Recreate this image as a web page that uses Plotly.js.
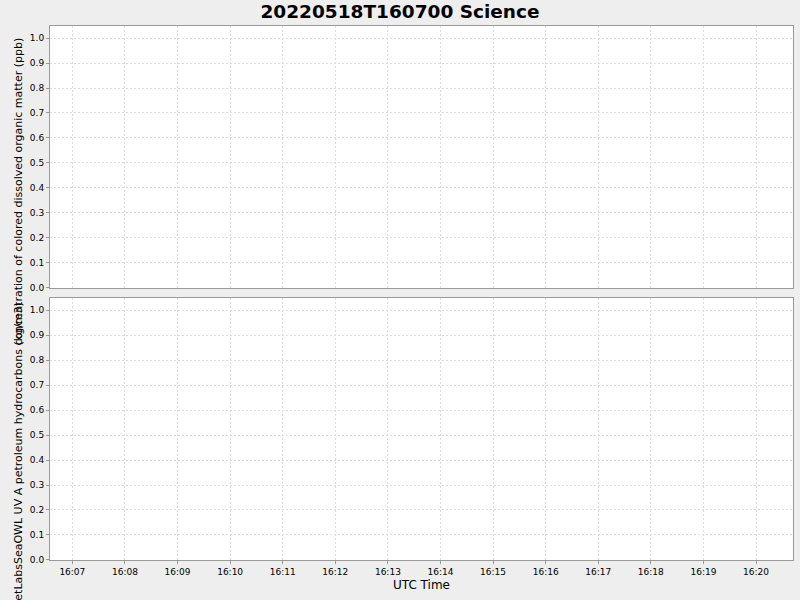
<!DOCTYPE html>
<html>
<head>
<meta charset="utf-8">
<script src="https://cdn.plot.ly/plotly-3.0.1.min.js"></script>
<style>
  html, body { margin: 0; padding: 0; background: #eeeeee; }
  #plot { width: 800px; height: 600px; }
</style>
</head>
<body>
<div id="plot"></div>
<script>
// the science file has no samples for either sensor, so both series are empty
var cdomTimes = [];
var cdomValues = [];
var petroTimes = [];
var petroValues = [];

var timeRange = ['2022-05-18 16:06:34.5', '2022-05-18 16:20:42.2'];
var valueRange = [0, 1.048];

var chartTitle = '20220518T160700 Science';
var cdomLabel = 'concentration of colored dissolved organic matter (ppb)';
var petroLabel = 'WetLabsSeaOWL UV A petroleum hydrocarbons (kg/m3)';
var timeLabel = 'UTC Time';

var tickFont = { family: 'DejaVu Sans', size: 9, color: '#000' };
var labelFont = { family: 'DejaVu Sans', size: 11, color: '#000' };

function xAxis(extra) {
  var ax = {
    type: 'date',
    range: timeRange,
    dtick: 60000,
    tickformat: '%H:%M',
    tickfont: tickFont,
    ticks: 'outside',
    ticklen: 3,
    tickcolor: '#999',
    showgrid: true,
    gridcolor: '#dcdcdc',
    griddash: '2px,2px',
    showline: true,
    linecolor: '#999',
    linewidth: 1,
    mirror: true,
    zeroline: false
  };
  for (var k in extra) ax[k] = extra[k];
  return ax;
}

function yAxis(extra) {
  var ax = {
    range: valueRange,
    dtick: 0.1,
    tick0: 0,
    tickformat: '.1f',
    tickfont: tickFont,
    ticks: 'outside',
    ticklen: 3,
    tickcolor: '#999',
    showgrid: true,
    gridcolor: '#dcdcdc',
    griddash: '2px,2px',
    showline: true,
    linecolor: '#999',
    linewidth: 1,
    mirror: true,
    zeroline: false
  };
  for (var k in extra) ax[k] = extra[k];
  return ax;
}

var data = [
  { x: cdomTimes, y: cdomValues, xaxis: 'x', yaxis: 'y', type: 'scatter', mode: 'lines', showlegend: false },
  { x: petroTimes, y: petroValues, xaxis: 'x2', yaxis: 'y2', type: 'scatter', mode: 'lines', showlegend: false }
];

var layout = {
  width: 800,
  height: 600,
  paper_bgcolor: '#eeeeee',
  plot_bgcolor: '#ffffff',
  margin: { l: 50, r: 7, t: 26, b: 40 },
  title: {
    text: '<b>' + chartTitle + '</b>',
    font: { family: 'DejaVu Sans', size: 18.5, color: '#000' },
    x: 0.5, xanchor: 'center',
    y: 0.98, yref: 'container', yanchor: 'middle'
  },
  // top panel
  xaxis: xAxis({ anchor: 'y', showticklabels: false, ticks: '' }),
  yaxis: yAxis({ domain: [0.5094, 1], anchor: 'x' }),
  // bottom panel
  xaxis2: xAxis({ anchor: 'y2', matches: 'x',
    title: { text: timeLabel, font: { family: 'DejaVu Sans', size: 12, color: '#000' }, standoff: 4 } }),
  yaxis2: yAxis({ domain: [0, 0.4906], anchor: 'x2' }),
  annotations: [
    {
      text: cdomLabel, textangle: -90,
      xref: 'paper', yref: 'paper', x: -0.0425, y: 1 - 9 / 534,
      xanchor: 'center', yanchor: 'top', showarrow: false,
      font: labelFont
    },
    {
      text: petroLabel, textangle: -90,
      xref: 'paper', yref: 'paper', x: -0.0425, y: (560 - 300) / 534,
      xanchor: 'center', yanchor: 'top', showarrow: false,
      font: labelFont
    }
  ]
};

Plotly.newPlot('plot', data, layout, { displayModeBar: false, staticPlot: true });
</script>
</body>
</html>
